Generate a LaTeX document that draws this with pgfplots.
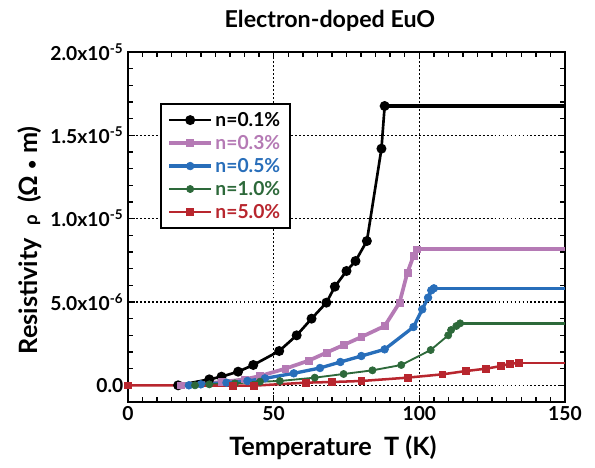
\documentclass[border=0pt]{standalone}
\usepackage{pgfplots}
\pgfplotsset{compat=1.18}
\usepackage{fontspec}
\setmainfont{Lato}
\definecolor{cpink}{RGB}{181,122,181}
\definecolor{cblue}{RGB}{40,110,186}
\definecolor{cgreen}{RGB}{45,105,58}
\definecolor{cred}{RGB}{184,38,46}
\begin{document}
\begin{tikzpicture}
% page frame: 595 x 468 px at 0.75bp/px, axis box starts at px (128,402)
\useasboundingbox (-96bp,-49.5bp) rectangle (350.25bp,301.5bp);
\begin{axis}[
    at={(0,0)}, anchor=south west,
    scale only axis,
    width=327.75bp, height=262.5bp,
    xmin=0, xmax=150,
    ymin=-1e-6, ymax=2e-5,
    xtick={0,50,100,150},
    minor x tick num=9,
    ytick={0,5e-6,1e-5,1.5e-5,2e-5},
    yticklabels={0.0, 5.0x10\textsuperscript{-6}, 1.0x10\textsuperscript{-5}, 1.5x10\textsuperscript{-5}, 2.0x10\textsuperscript{-5}},
    minor y tick num=4,
    scaled y ticks=false,
    /pgf/number format/assume math mode=true,
    ticklabel style={font=\bfseries\fontsize{14.5}{16}\selectfont},
    grid=major,
    major grid style={black, line width=1.1pt, dash pattern=on 1.4pt off 1.6pt},
    axis line style={line width=1.9pt},
    tick style={black, line width=1.1pt},
    major tick length=5bp, minor tick length=3.5bp,
    every axis title shift=0pt,
    title={Electron-doped EuO},
    title style={at={(axis description cs:0.462,1.069)}, anchor=base, font=\bfseries\fontsize{17.5}{20}\selectfont},
    xlabel={Temperature\ \ T (K)},
    xlabel style={at={(axis description cs:0.469,-0.152)}, anchor=base, font=\bfseries\fontsize{19}{22}\selectfont},
    ylabel={Resistivity\ \ {\fontsize{14}{15}\selectfont ρ}\ \ (Ω {\fontsize{12}{14}\selectfont\textbullet}\ m)},
    ylabel style={at={(axis description cs:-0.208,0.462)}, anchor=base, font=\bfseries\fontsize{19}{22}\selectfont},
    legend style={at={(axis description cs:0.073,0.854)}, anchor=north west, draw=black, line width=1.5pt, fill=white,
        font=\bfseries\fontsize{14.5}{16}\selectfont, row sep=1.2pt, inner xsep=5pt, inner ysep=4pt},
    legend cell align=left,
    legend image code/.code={\draw[mark repeat=2,mark phase=2,#1] plot coordinates {(0cm,0cm)(0.55cm,0cm)(1.1cm,0cm)};},
]
% n=0.1%
\addplot[black, line width=2pt, mark=*, mark size=2.7pt, mark options={solid}] coordinates {
(17.2,0) (27.9,0.36e-6) (32.1,0.52e-6) (37.8,0.82e-6) (43.0,1.22e-6) (51.9,2.06e-6) (57.9,3.0e-6)
(63.0,4.0e-6) (68.1,4.96e-6) (71.0,5.92e-6) (75.0,6.86e-6) (78.1,7.46e-6) (82.0,8.66e-6)
(87.0,14.2e-6) (88.1,16.76e-6)};
\addlegendentry{\textcolor{black}{n=0.1\%}}
% n=0.3%
\addplot[cpink, line width=2.8pt, mark=square*, mark size=2.6pt, mark options={solid, line width=0.5pt}] coordinates {
(18.2,0) (32.1,0.2e-6) (40.1,0.36e-6) (45.3,0.56e-6) (54.0,1.0e-6) (62.0,1.48e-6) (68.1,1.96e-6)
(74.0,2.42e-6) (80.1,2.9e-6) (88.1,3.56e-6) (93.2,4.96e-6) (95.9,6.76e-6) (98.0,7.76e-6) (99.0,8.16e-6)};
\addlegendentry{\textcolor{cpink}{n=0.3\%}}
% n=0.5%
\addplot[cblue, line width=2.5pt, mark=*, mark size=2.9pt, mark options={solid, line width=0.5pt}] coordinates {
(20.9,0) (25.0,0.06e-6) (33.8,0.16e-6) (41.0,0.26e-6) (47.0,0.42e-6) (56.9,0.72e-6) (65.9,1.04e-6)
(72.9,1.4e-6) (80.1,1.76e-6) (88.1,2.16e-6) (98.0,3.5e-6) (101.0,4.56e-6) (103.0,5.26e-6)
(104.1,5.7e-6) (105.0,5.82e-6)};
\addlegendentry{\textcolor{cblue}{n=0.5\%}}
% n=1.0%
\addplot[cgreen, line width=1.4pt, mark=*, mark size=2.7pt, mark options={solid, line width=0.5pt}] coordinates {
(23.0,0) (27.9,0.06e-6) (36.7,0.12e-6) (45.3,0.22e-6) (52.1,0.26e-6) (64.1,0.46e-6) (74.0,0.68e-6)
(83.9,0.9e-6) (93.8,1.22e-6) (103.9,2.12e-6) (109.9,3.0e-6) (110.9,3.32e-6) (112.7,3.56e-6) (114.0,3.72e-6)};
\addlegendentry{\textcolor{cgreen}{n=1.0\%}}
% n=5.0%
\addplot[cred, line width=1.9pt, mark=square*, mark size=2.6pt, mark options={solid, line width=0.5pt}] coordinates {
(0,0) (36.1,-0.02e-6) (43.2,-0.02e-6) (61.0,0.16e-6) (70.0,0.2e-6) (80.1,0.26e-6) (95.9,0.46e-6)
(107.9,0.66e-6) (116.1,0.86e-6) (122.9,1.0e-6) (128.1,1.16e-6) (131.0,1.3e-6) (134.0,1.34e-6)};
\addlegendentry{\textcolor{cred}{n=5.0\%}}
% flat continuations
\addplot[black, line width=2.6pt, forget plot] coordinates {(88.1,16.76e-6) (150,16.76e-6)};
\addplot[cpink, line width=2.8pt, forget plot] coordinates {(99.0,8.16e-6) (150,8.16e-6)};
\addplot[cblue, line width=2.6pt, forget plot] coordinates {(105.0,5.82e-6) (150,5.82e-6)};
\addplot[cgreen, line width=2pt, forget plot] coordinates {(114.0,3.72e-6) (150,3.72e-6)};
\addplot[cred, line width=2.2pt, forget plot] coordinates {(134.0,1.34e-6) (150,1.34e-6)};
\end{axis}
\end{tikzpicture}
\end{document}
